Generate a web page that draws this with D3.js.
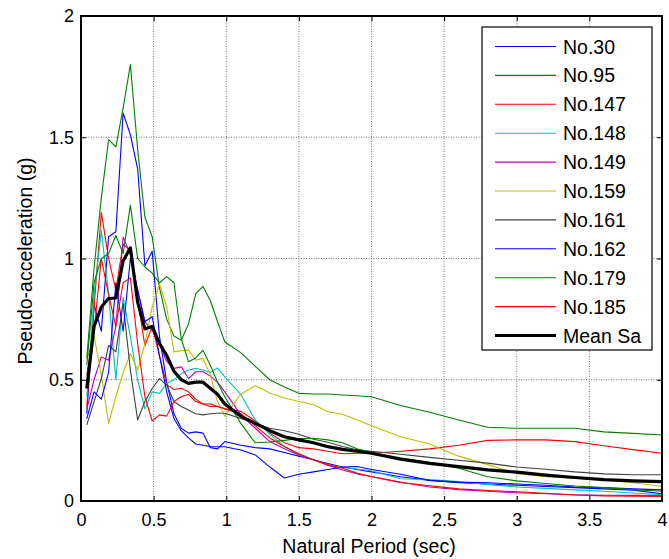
<!DOCTYPE html>
<html><head><meta charset="utf-8">
<script src="https://cdn.jsdelivr.net/npm/d3@7/dist/d3.min.js"></script>
<style>
body{margin:0;background:#fff;}
text{font-family:"Liberation Sans",Arial,sans-serif;}
</style></head>
<body><svg id="chart" width="669" height="559"></svg>
<script>
const periods = [0.04,0.09,0.14,0.19,0.24,0.29,0.34,0.39,0.44,0.49,0.54,0.59,0.64,0.69,0.74,0.79,0.84,0.89,0.94,0.99,
  1.1,1.2,1.3,1.4,1.5,1.6,1.7,1.8,1.9,2.0,2.2,2.4,2.6,2.8,3.0,3.2,3.4,3.6,3.8,4.0];

const seriesNames = ["No.30","No.95","No.147","No.148","No.149","No.159","No.161","No.162","No.179","No.185"];
const seriesColors = ["#0000ff","#008000","#ff0000","#00bfbf","#bf00bf","#bfbf00","#404040","#0000ff","#008000","#ff0000"];

const sa30  = [0.36,0.81,0.70,1.09,1.11,1.60,1.51,1.37,0.97,1.03,0.68,0.49,0.36,0.30,0.28,0.285,0.28,0.22,0.215,0.245,
  0.23,0.22,0.215,0.20,0.185,0.17,0.155,0.14,0.13,0.12,0.10,0.085,0.075,0.07,0.065,0.06,0.055,0.05,0.045,0.03];
const sa95  = [0.59,0.96,1.25,1.49,1.46,1.62,1.80,1.45,1.17,1.09,0.88,0.75,0.68,0.663,0.73,0.855,0.885,0.827,0.74,0.656,
  0.612,0.555,0.50,0.47,0.444,0.441,0.441,0.437,0.434,0.43,0.394,0.366,0.334,0.304,0.30,0.30,0.30,0.285,0.279,0.272];
const sa147 = [0.39,0.80,1.19,1.00,0.87,1.06,1.03,0.83,0.64,0.72,0.60,0.48,0.46,0.465,0.45,0.42,0.40,0.40,0.39,0.38,
  0.37,0.33,0.28,0.24,0.22,0.215,0.205,0.195,0.197,0.197,0.205,0.215,0.23,0.25,0.252,0.252,0.245,0.228,0.212,0.197];
const sa148 = [0.43,0.85,1.115,0.855,0.50,0.84,0.677,0.50,0.38,0.45,0.444,0.485,0.50,0.525,0.54,0.547,0.54,0.53,0.549,0.512,
  0.44,0.334,0.275,0.225,0.19,0.17,0.147,0.138,0.132,0.125,0.092,0.088,0.08,0.068,0.058,0.052,0.046,0.04,0.033,0.026];
const sa149 = [0.38,0.50,0.594,0.58,0.72,1.088,1.019,0.87,0.74,0.704,0.649,0.575,0.547,0.553,0.505,0.533,0.533,0.515,0.49,0.45,
  0.355,0.30,0.245,0.215,0.19,0.17,0.148,0.128,0.112,0.101,0.078,0.058,0.047,0.04,0.034,0.03,0.026,0.024,0.023,0.022];
const sa159 = [0.58,0.68,0.52,0.32,0.43,0.53,0.608,0.54,0.649,0.80,0.896,0.80,0.615,0.62,0.622,0.581,0.588,0.52,0.41,0.35,
  0.44,0.475,0.445,0.425,0.41,0.398,0.368,0.358,0.335,0.31,0.265,0.235,0.185,0.15,0.113,0.10,0.094,0.088,0.075,0.06];
const sa161 = [0.314,0.41,0.505,0.642,0.615,0.814,0.54,0.334,0.41,0.464,0.505,0.478,0.41,0.39,0.375,0.36,0.355,0.36,0.362,0.362,
  0.34,0.32,0.30,0.29,0.275,0.255,0.242,0.225,0.211,0.205,0.193,0.18,0.168,0.156,0.14,0.131,0.12,0.112,0.108,0.108];
const sa162 = [0.34,0.45,0.42,0.53,0.90,0.70,1.00,0.87,0.74,0.76,0.60,0.45,0.34,0.29,0.26,0.235,0.23,0.225,0.224,0.224,
  0.21,0.19,0.14,0.095,0.11,0.12,0.13,0.14,0.142,0.13,0.11,0.085,0.078,0.075,0.07,0.065,0.058,0.055,0.05,0.046];
const sa179 = [0.56,0.90,1.00,1.02,1.095,1.02,1.22,1.00,0.965,0.94,0.90,0.925,0.90,0.67,0.574,0.59,0.622,0.56,0.49,0.43,
  0.32,0.24,0.243,0.25,0.258,0.259,0.252,0.24,0.215,0.20,0.178,0.16,0.135,0.10,0.083,0.072,0.062,0.055,0.047,0.04];
const sa185 = [0.52,0.70,1.00,0.85,0.72,0.90,0.92,0.65,0.43,0.33,0.355,0.35,0.41,0.43,0.44,0.41,0.40,0.39,0.39,0.38,
  0.36,0.31,0.26,0.225,0.195,0.17,0.15,0.135,0.115,0.10,0.076,0.063,0.05,0.043,0.038,0.032,0.025,0.021,0.02,0.019];
const meanSa = [0.464,0.72,0.80,0.835,0.837,0.99,1.044,0.82,0.71,0.72,0.65,0.60,0.535,0.50,0.485,0.49,0.49,0.465,0.44,0.40,
  0.35,0.32,0.29,0.265,0.252,0.24,0.224,0.213,0.205,0.197,0.172,0.155,0.142,0.128,0.119,0.107,0.097,0.088,0.083,0.08];

const seriesValues = [sa30,sa95,sa147,sa148,sa149,sa159,sa161,sa162,sa179,sa185];
const xTicks = [0,0.5,1,1.5,2,2.5,3,3.5,4];
const yTicks = [0,0.5,1,1.5,2];
const xTickLabels = ["0","0.5","1","1.5","2","2.5","3","3.5","4"];
const yTickLabels = ["0","0.5","1","1.5","2"];

const svg = d3.select("#chart");
const L = 81, R = 662, T = 16, B = 501;
const x = d3.scaleLinear().domain([0,4]).range([L,R]);
const y = d3.scaleLinear().domain([0,2]).range([B,T]);

// grid
const grid = svg.append("g");
grid.selectAll(".gx").data(xTicks.slice(1,-1)).enter().append("line")
  .attr("x1",d=>x(d)).attr("x2",d=>x(d)).attr("y1",T).attr("y2",B)
  .attr("stroke","#777").attr("stroke-width",1).attr("stroke-dasharray","1,1.5");
grid.selectAll(".gy").data(yTicks.slice(1,-1)).enter().append("line")
  .attr("y1",d=>y(d)).attr("y2",d=>y(d)).attr("x1",L).attr("x2",R)
  .attr("stroke","#777").attr("stroke-width",1).attr("stroke-dasharray","1,1.5");

// lines
svg.append("clipPath").attr("id","clip").append("rect")
  .attr("x",L).attr("y",T).attr("width",R-L).attr("height",B-T);
const line = d3.line().x((d,i)=>x(periods[i])).y(d=>y(d));
const lg = svg.append("g").attr("clip-path","url(#clip)");
seriesValues.forEach((vals,k)=>{
  lg.append("path").attr("d",line(vals)).attr("fill","none")
    .attr("stroke",seriesColors[k]).attr("stroke-width",1.1).attr("stroke-linejoin","round");
});
lg.append("path").attr("d",line(meanSa)).attr("fill","none")
  .attr("stroke","#000").attr("stroke-width",3.2).attr("stroke-linejoin","round");

// axes
const fs = 18;
const xAxis = d3.axisBottom(x).tickValues(xTicks).tickFormat((d,i)=>xTickLabels[i]).tickSizeInner(-5).tickSizeOuter(0);
const yAxis = d3.axisLeft(y).tickValues(yTicks).tickFormat((d,i)=>yTickLabels[i]).tickSizeInner(-5).tickSizeOuter(0);
const gx = svg.append("g").attr("transform",`translate(0,${B})`).call(xAxis);
const gy = svg.append("g").attr("transform",`translate(${L},0)`).call(yAxis);
[gx,gy].forEach(g=>{
  g.select(".domain").remove();
  g.selectAll("line").attr("stroke","#000");
  g.selectAll("text").attr("font-size",fs).attr("fill","#000").style("font-family","Liberation Sans, Arial, sans-serif");
});
gx.selectAll("text").attr("dy","0.71em").attr("y",12);
gy.selectAll("text").attr("x",-7);
// top and right ticks
const xTop = d3.axisTop(x).tickValues(xTicks).tickSizeInner(-5).tickSizeOuter(0).tickFormat("");
const yRight = d3.axisRight(y).tickValues(yTicks).tickSizeInner(-5).tickSizeOuter(0).tickFormat("");
const gt = svg.append("g").attr("transform",`translate(0,${T})`).call(xTop);
const gr = svg.append("g").attr("transform",`translate(${R},0)`).call(yRight);
[gt,gr].forEach(g=>{g.select(".domain").remove(); g.selectAll("line").attr("stroke","#000");});

// box
svg.append("rect").attr("x",L).attr("y",T).attr("width",R-L).attr("height",B-T)
  .attr("fill","none").attr("stroke","#000").attr("stroke-width",2);

// titles
svg.append("text").attr("x",369).attr("y",553).attr("text-anchor","middle")
  .attr("font-size",19.5).text("Natural Period (sec)");
svg.append("text").attr("transform",`translate(32,${261}) rotate(-90)`).attr("text-anchor","middle")
  .attr("font-size",19.5).text("Pseudo-acceleration (g)");

// legend
const legNames = seriesNames.concat(["Mean Sa"]);
const legColors = seriesColors.concat(["#000"]);
const legX = 482, legY = 27, legW = 170, legH = 323;
const leg = svg.append("g");
leg.append("rect").attr("x",legX).attr("y",legY).attr("width",legW).attr("height",legH)
  .attr("fill","#fff").attr("stroke","#000").attr("stroke-width",1.2);
legNames.forEach((n,i)=>{
  const cy = 46.5 + i*28.9;
  leg.append("line").attr("x1",495).attr("x2",556).attr("y1",cy).attr("y2",cy)
    .attr("stroke",legColors[i]).attr("stroke-width",i===10?3.2:1.1);
  leg.append("text").attr("x",563).attr("y",cy).attr("dy","0.36em").attr("font-size",19.5).text(n);
});
</script></body></html>
